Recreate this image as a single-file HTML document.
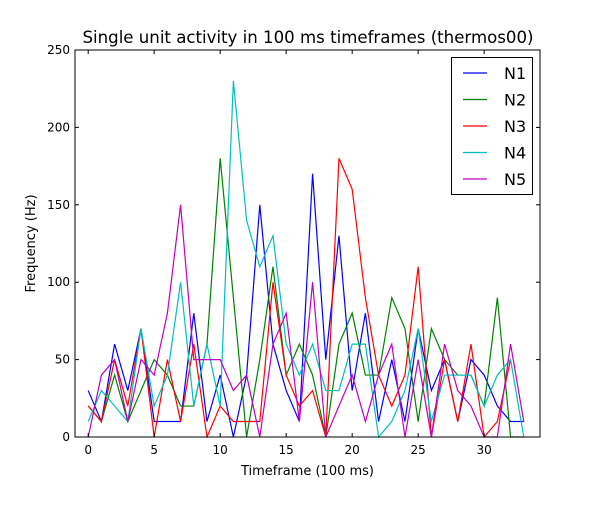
<!DOCTYPE html>
<html><head><meta charset="utf-8"><style>
body{margin:0;background:#fff;}
svg text{font-family:"DejaVu Sans","Liberation Sans",sans-serif;}
</style></head><body>
<svg id="chart" width="600" height="500" xmlns="http://www.w3.org/2000/svg">
<rect width="600" height="500" fill="#fff"/>
<g id="plot"></g>
</svg>
<script>
const xTicks=[0,5,10,15,20,25,30];
const yTicks=[0,50,100,150,200,250];
const seriesNames=["N1","N2","N3","N4","N5"];
const seriesColors=["#0000ff","#008000","#ff0000","#00bfbf","#bf00bf"];
const n1=[30,10,60,30,70,10,10,10,80,10,40,0,40,150,60,30,10,170,50,130,30,80,10,50,10,70,30,50,10,50,40,20,10,10];
const n2=[20,10,40,10,30,50,40,20,20,60,180,90,0,50,110,40,60,40,0,60,80,40,40,90,70,10,70,50,40,40,20,90,0,0];
const n3=[20,10,50,20,70,0,50,10,60,0,20,10,10,10,100,40,20,30,0,180,160,90,40,20,40,110,0,50,10,60,0,10,50];
const n4=[10,30,20,10,70,20,40,100,20,60,20,230,140,110,130,60,40,60,30,30,60,60,0,10,30,70,10,40,40,40,20,40,50,0];
const n5=[0,40,50,10,50,40,80,150,50,50,50,30,40,0,60,80,10,100,0,20,40,10,40,60,0,50,0,60,30,20,0,0,60,10];
const allSeries=[n1,n2,n3,n4,n5];

const L=75,R=540,T=50,B=437,xMin=-1,xMax=34.23,yMin=0,yMax=250;
const X=v=>L+(v-xMin)/(xMax-xMin)*(R-L);
const Y=v=>B-(v-yMin)/(yMax-yMin)*(B-T);
const NS="http://www.w3.org/2000/svg";
const svg=document.getElementById('chart');
const plot=document.getElementById('plot');
function mk(tag,attrs,parent){const e=document.createElementNS(NS,tag);for(const k in attrs)e.setAttribute(k,attrs[k]);(parent||svg).appendChild(e);return e;}

const defs=mk('defs',{});
const cp=mk('clipPath',{id:'clip'},defs);
mk('rect',{x:L,y:T-1,width:R-L,height:B-T+2},cp);
allSeries.forEach((s,i)=>{
  const pts=s.map((v,j)=>X(j).toFixed(2)+","+Y(v).toFixed(2)).join(" ");
  const pl=mk('polyline',{points:pts,fill:'none',stroke:seriesColors[i],'stroke-width':1.2,'clip-path':'url(#clip)'},plot);
  
  
});

const frame=mk('rect',{x:L,y:T,width:R-L,height:B-T,fill:'none',stroke:'#000','stroke-width':1});



xTicks.forEach(t=>{
  const x=X(t);
  mk('line',{x1:x,x2:x,y1:B,y2:B-4,stroke:'#000'});
  mk('line',{x1:x,x2:x,y1:T,y2:T+4,stroke:'#000'});
  const tx=mk('text',{x:x,y:B+17,'text-anchor':'middle','font-size':12});
  tx.textContent=t;
  
  
});
yTicks.forEach(t=>{
  const y=Y(t);
  mk('line',{x1:L,x2:L+4,y1:y,y2:y,stroke:'#000'});
  mk('line',{x1:R,x2:R-4,y1:y,y2:y,stroke:'#000'});
  const tx=mk('text',{x:L-5,y:y+4,'text-anchor':'end','font-size':12});
  tx.textContent=t;
  
  
});

const title=mk('text',{x:(L+R)/2+0.5,y:43,'text-anchor':'middle','font-size':16.6});
title.textContent="Single unit activity in 100 ms timeframes (thermos00)";


const xl=mk('text',{x:(L+R)/2,y:475,'text-anchor':'middle','font-size':13});
xl.textContent="Timeframe (100 ms)";


const yl=mk('text',{x:35,y:(T+B)/2,'text-anchor':'middle','font-size':13,transform:'rotate(-90 35 '+((T+B)/2)+')'});
yl.textContent="Frequency (Hz)";



const lg=mk('g',{});


mk('rect',{x:451.5,y:57.5,width:81,height:137,fill:'#fff',stroke:'#000'},lg);
seriesNames.forEach((n,i)=>{
  const y=73+i*26.5;
  const e=mk('g',{},lg);
  
  
  mk('line',{x1:463,x2:487,y1:y,y2:y,stroke:seriesColors[i],'stroke-width':1.2},e);
  const t=mk('text',{x:504,y:y+6,'font-size':16},e);
  t.textContent=n;
});
</script>
</body></html>
